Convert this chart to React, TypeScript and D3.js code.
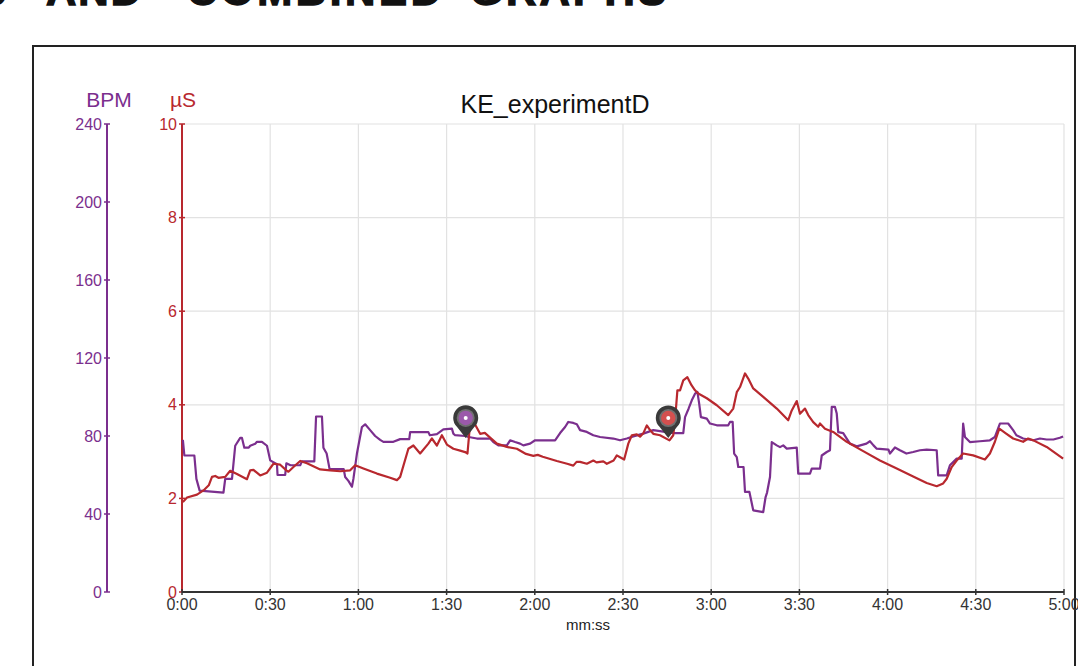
import React from "react";
import * as d3 from "d3";

// ---- data ----
const xTicks = [0, 30, 60, 90, 120, 150, 180, 210, 240, 270, 300];
const bpmTicks = [0, 40, 80, 120, 160, 200, 240];
const usTicks = [0, 2, 4, 6, 8, 10];

const bpmT = [0.3, 0.8, 4.2, 4.9, 6.0, 14.1, 14.7, 17, 18.1, 19.8, 20.4, 21.2, 22.7, 23.2, 24.9, 25.5, 27.2, 28.9, 30, 32.3, 32.5, 35.1, 35.5, 36.9, 40.2, 40.8, 45, 45.6, 47.6, 48.1, 49.2, 50.2, 55, 55.5, 56.6, 57.8, 58.3, 59.5, 61.2, 62.3, 64, 65.7, 67.4, 68.5, 71.9, 74.2, 77.3, 77.6, 83.8, 84.3, 86.7, 88.9, 91.8, 92.3, 92.9, 96.3, 97.5, 100.3, 104.8, 105.9, 107.6, 110.5, 111.6, 113.3, 115, 116.1, 118.4, 120.1, 126.9, 128.6, 130.3, 131.4, 133.1, 134.3, 135.4, 137.7, 139.9, 142.2, 146.7, 149, 151.3, 153.5, 156.9, 160.3, 167.1, 170.5, 171.1, 172.3, 173.4, 174.5, 175.3, 175.9, 176.5, 178.5, 179.6, 181.9, 185.8, 186.4, 187.3, 187.8, 188.7, 189.2, 191, 191.5, 193, 194.3, 197.7, 198.5, 199, 200, 200.6, 202.3, 203.4, 204.5, 205.7, 209.1, 209.6, 213.6, 214.2, 217, 217.6, 219.3, 220.4, 221, 222.1, 222.7, 223.2, 224.9, 226.1, 227.2, 229.5, 232.8, 234, 235.2, 236.3, 240.3, 240.8, 242.5, 244.2, 246.4, 248.7, 251, 253.3, 256.7, 257.2, 260.1, 261.2, 263.5, 265.2, 265.7, 266.3, 268, 271.4, 274.8, 276.5, 278.2, 281, 282.7, 283.8, 286.1, 289.6, 291.8, 294.1, 296.4, 298.6, 299.7];
const bpmV = [78, 70, 70, 58, 52, 51, 58, 58, 75, 79, 79, 74, 74, 75, 76, 77, 77, 75, 67.5, 65.5, 60, 60, 66, 65, 65, 67, 67, 90, 90, 74, 71, 63, 63, 59, 57, 54, 58, 71, 84.6, 86, 83, 80, 78, 77, 77, 78.4, 78.4, 82, 82, 80.4, 81, 83.4, 83.8, 81.2, 80.4, 80, 79.5, 78.7, 78.7, 76.9, 75.2, 75.2, 77.8, 76.9, 76.1, 75.2, 76.1, 77.8, 77.8, 81.5, 84.6, 87.2, 86.7, 86, 83, 82.1, 80.4, 79.5, 78.7, 77.8, 78.7, 79.8, 81.2, 83, 81.5, 81.5, 89.7, 94, 98.3, 101.7, 102.6, 96.7, 89.7, 88.9, 86.4, 85.5, 85.5, 87.2, 87.2, 71, 69.2, 64.1, 64.1, 51.3, 51.3, 41.9, 41, 48.7, 51, 59, 76.9, 75.2, 74.3, 75.2, 73.5, 74, 60.7, 60.7, 63.3, 63.3, 70, 71.8, 72.7, 94.9, 94.9, 91.5, 82, 81.5, 78.7, 76.1, 74.7, 76.1, 77.3, 75.2, 73.5, 73, 71, 74.1, 72.7, 71, 71.8, 72.7, 73, 72.7, 59.8, 59.8, 65, 68.4, 68.4, 86.4, 79.5, 76.9, 77.3, 77.8, 79.5, 86.4, 86.4, 83, 80.4, 78.7, 77.8, 78.7, 78.2, 78.2, 79.1, 79.8];

const usT = [0.3, 1.7, 5.1, 7.3, 9.1, 10.2, 11.3, 12.4, 14.7, 16.4, 18.7, 22.1, 23.2, 24.3, 26.6, 28.9, 31.1, 33.4, 35.5, 36.2, 37.9, 40.2, 42.5, 47, 50.4, 53.8, 57.2, 58.9, 61.7, 66.3, 70.8, 73.1, 74.2, 77, 78.7, 81, 83.8, 85, 86.7, 88.4, 90.1, 92.3, 94.6, 96.3, 97.1, 98.0, 98.6, 99.5, 101.4, 103, 104.8, 107.1, 110.5, 113.9, 117, 119.5, 121, 122.7, 127.5, 131, 133.1, 134.2, 135.4, 137.7, 139.9, 141, 143.3, 144.5, 146.8, 147.9, 149, 150.4, 151.8, 153, 154.7, 155.8, 156.9, 158.1, 159.2, 160.3, 162.6, 165.8, 167.1, 167.7, 168.5, 169.4, 170.5, 171.9, 173.3, 174.5, 175.6, 178.5, 181.9, 185.8, 187.5, 188.7, 189.8, 191.5, 192.6, 194.3, 197.7, 202.3, 206.2, 207.4, 209.1, 210.2, 211.9, 213, 214.7, 216.4, 217, 218.7, 221.5, 226.1, 231.7, 237.4, 243.1, 248.7, 253.3, 256.7, 258.9, 260.1, 261.8, 263.5, 265.7, 269.1, 273.1, 274.8, 276.5, 278, 280.2, 282.7, 286.1, 287.8, 289.6, 294.1, 299.7];
const usV = [1.92, 2.02, 2.08, 2.17, 2.28, 2.46, 2.48, 2.44, 2.46, 2.59, 2.52, 2.41, 2.6, 2.61, 2.49, 2.55, 2.74, 2.72, 2.6, 2.57, 2.67, 2.8, 2.75, 2.62, 2.6, 2.58, 2.6, 2.71, 2.64, 2.53, 2.44, 2.39, 2.46, 3.06, 3.13, 2.96, 3.17, 3.28, 3.13, 3.35, 3.15, 3.06, 3.02, 2.99, 2.96, 3.6, 3.67, 3.6, 3.38, 3.4, 3.3, 3.17, 3.1, 3.06, 2.95, 2.91, 2.93, 2.89, 2.8, 2.74, 2.7, 2.78, 2.78, 2.74, 2.81, 2.77, 2.79, 2.74, 2.81, 2.92, 2.88, 2.83, 3.17, 3.35, 3.37, 3.32, 3.39, 3.56, 3.46, 3.38, 3.35, 3.24, 3.35, 3.67, 4.31, 4.31, 4.52, 4.59, 4.42, 4.31, 4.24, 4.14, 3.99, 3.78, 3.92, 4.27, 4.38, 4.67, 4.56, 4.35, 4.17, 3.92, 3.67, 3.88, 4.08, 3.81, 3.92, 3.78, 3.63, 3.53, 3.6, 3.49, 3.42, 3.21, 3.01, 2.81, 2.64, 2.47, 2.33, 2.26, 2.32, 2.42, 2.67, 2.81, 2.96, 2.92, 2.83, 2.96, 3.21, 3.49, 3.39, 3.28, 3.21, 3.28, 3.24, 3.1, 2.85];

const markerT = [96.5, 165.4];
const markerSeries = ["bpm", "us"];
const markerValue = [79, 3.29];

const PURPLE = "#7b2f8e";
const RED = "#b8282e";
const FONT = "'Liberation Sans', Arial, Helvetica, sans-serif";

const fmt = (s: number) => `${Math.floor(s / 60)}:${String(s % 60).padStart(2, "0")}`;

export default function App() {
  const x = d3.scaleLinear().domain([0, 300]).range([182, 1064]);
  const yB = d3.scaleLinear().domain([0, 240]).range([592, 124]);
  const yU = d3.scaleLinear().domain([0, 10]).range([592, 124]);

  const bpmLine = d3.line<number>().x((_, i) => x(bpmT[i])).y((v) => yB(v))(bpmV) || "";
  const usLine = d3.line<number>().x((_, i) => x(usT[i])).y((v) => yU(v))(usV) || "";

  const pin = (cx: number, tipY: number, inner: string, key: string) => {
    const cy = tipY - 20;
    const r = 12.5;
    const d = `M${cx},${tipY} L${cx - 8.8},${cy + 8.8} A${r},${r} 0 1 1 ${cx + 8.8},${cy + 8.8} Z`;
    return (
      <g key={key}>
        <path d={d} fill="#3a3a3a" />
        <circle cx={cx} cy={cy} r={9} fill="#707070" />
        <circle cx={cx} cy={cy} r={7.2} fill={inner} />
        <circle cx={cx} cy={cy} r={2} fill="#fff" />
      </g>
    );
  };

  return (
    <svg width={1078} height={666} style={{ position: "absolute", left: 0, top: 0 }} fontFamily={FONT}>
      <rect width={1078} height={666} fill="#fff" />
      {/* page heading, cut off at top */}
      <g fontWeight="bold" fontSize={42} fill="#111" stroke="#111" strokeWidth={1.4}>
        <text x={-22} y={5}>S</text>
        <text x={46} y={5} textLength={95} lengthAdjust="spacing">AND</text>
        <text x={187} y={5} textLength={254} lengthAdjust="spacing">COMBINED</text>
        <text x={470} y={5} textLength={196} lengthAdjust="spacing">GRAPHS</text>
      </g>
      {/* chart box */}
      <rect x={33} y={46} width={1042} height={640} fill="none" stroke="#222" strokeWidth={2} />

      {/* grid */}
      {usTicks.filter((t) => t > 0).map((t) => (
        <line key={"hg" + t} x1={182} x2={1064} y1={yU(t)} y2={yU(t)} stroke="#e2e2e2" strokeWidth={1.2} />
      ))}
      {xTicks.filter((t) => t > 0).map((t) => (
        <line key={"vg" + t} x1={x(t)} x2={x(t)} y1={124} y2={592} stroke="#e2e2e2" strokeWidth={1.2} />
      ))}

      {/* title */}
      <text x={555} y={113} textAnchor="middle" fontSize={25} fill="#111">KE_experimentD</text>

      {/* BPM axis */}
      <text x={109} y={107} textAnchor="middle" fontSize={21} fill={PURPLE}>BPM</text>
      <line x1={107} x2={107} y1={124} y2={592} stroke={PURPLE} strokeWidth={2} />
      {bpmTicks.map((t) => (
        <g key={"b" + t}>
          <line x1={104} x2={110} y1={yB(t)} y2={yB(t)} stroke={PURPLE} strokeWidth={1.5} />
          <text x={102} y={yB(t) + 5.5} textAnchor="end" fontSize={16} fill={PURPLE}>{t}</text>
        </g>
      ))}

      {/* µS axis */}
      <text x={183} y={107} textAnchor="middle" fontSize={21} fill={RED}>µS</text>
      <line x1={182} x2={182} y1={124} y2={592} stroke={RED} strokeWidth={2} />
      {usTicks.map((t) => (
        <g key={"u" + t}>
          <line x1={179} x2={185} y1={yU(t)} y2={yU(t)} stroke={RED} strokeWidth={1.5} />
          <text x={177} y={yU(t) + 5.5} textAnchor="end" fontSize={16} fill={RED}>{t}</text>
        </g>
      ))}

      {/* x axis */}
      <line x1={182} x2={1064} y1={592} y2={592} stroke="#333" strokeWidth={2} />
      {xTicks.map((t) => (
        <g key={"x" + t}>
          <line x1={x(t)} x2={x(t)} y1={589} y2={595} stroke="#333" strokeWidth={1.5} />
          <text x={x(t)} y={610} textAnchor="middle" fontSize={16} fill="#333">{fmt(t)}</text>
        </g>
      ))}
      <text x={588} y={630} textAnchor="middle" fontSize={15} fill="#222">mm:ss</text>

      {/* series */}
      <path d={bpmLine} fill="none" stroke={PURPLE} strokeWidth={2.2} strokeLinejoin="round" />
      <path d={usLine} fill="none" stroke={RED} strokeWidth={2.2} strokeLinejoin="round" />

      {/* event markers */}
      {markerT.map((t, i) =>
        pin(
          x(t),
          markerSeries[i] === "bpm" ? yB(markerValue[i]) : yU(markerValue[i]),
          markerSeries[i] === "bpm" ? "#9b59aa" : "#d4504f",
          "m" + i
        )
      )}
    </svg>
  );
}
